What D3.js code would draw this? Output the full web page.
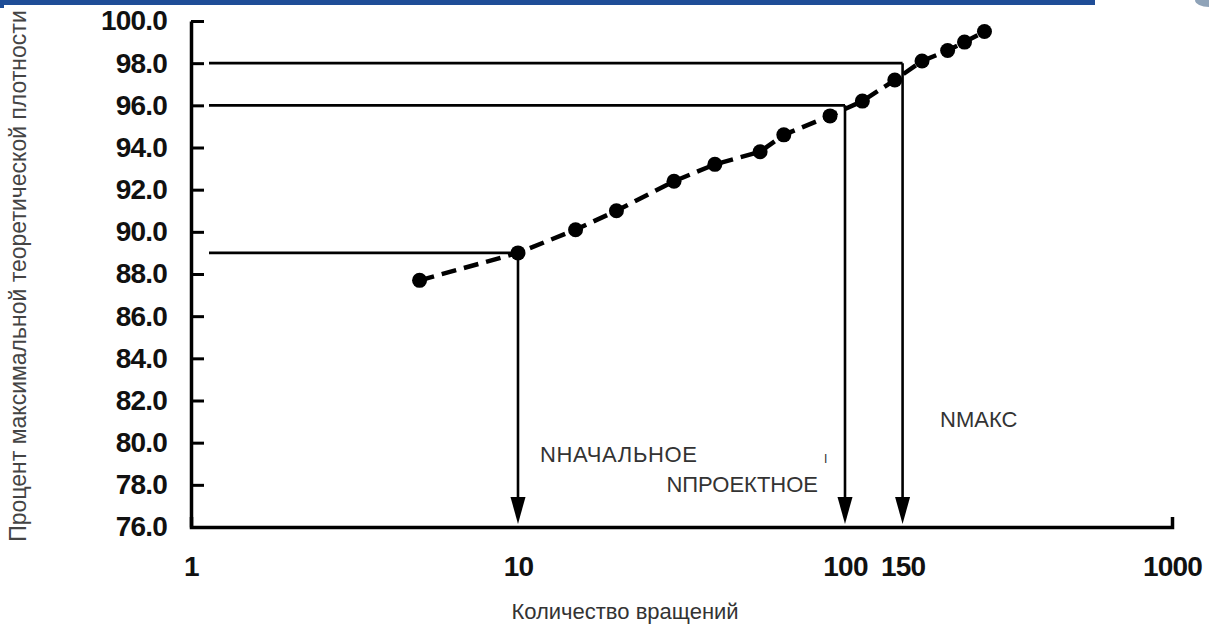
<!DOCTYPE html>
<html>
<head>
<meta charset="utf-8">
<script src="https://cdn.jsdelivr.net/npm/d3@7"></script>
<style>
  html, body { margin: 0; padding: 0; background: #fff; }
  svg { display: block; }
</style>
</head>
<body>
<script>
// ---- data ----
const yTickValues = [76, 78, 80, 82, 84, 86, 88, 90, 92, 94, 96, 98, 100];
const xTickValues = [1, 10, 100, 150, 1000];
const xTickLabels = ["1", "10", "100", "150", "1000"];
const rotations = [5, 10, 15, 20, 30, 40, 55, 65, 90, 113, 142, 172, 206, 232, 267];
const density   = [87.7, 89.0, 90.1, 91.0, 92.4, 93.2, 93.8, 94.6, 95.5, 96.2, 97.2, 98.1, 98.6, 99.0, 99.5];
const refRotations = [10, 100, 150];
const refDensity   = [89.0, 96.0, 98.0];
const refLabels    = ["NНАЧАЛЬНОЕ", "NПРОЕКТНОЕ", "NМАКС"];
const xTitle = "Количество вращений";
const yTitle = "Процент максимальной теоретической плотности";

// ---- layout ----
const W = 1209, H = 629;
const svg = d3.select("body").append("svg").attr("width", W).attr("height", H);

// top decoration bar
svg.append("rect").attr("x", 0).attr("y", 0).attr("width", 1095).attr("height", 5).attr("fill", "#1f4d97");
svg.append("rect").attr("x", 0).attr("y", 0).attr("width", 4).attr("height", 8).attr("fill", "#1f4d97");
svg.append("ellipse").attr("cx", 1209).attr("cy", 0).attr("rx", 14).attr("ry", 7).attr("fill", "#8fa3b8");

const x = d3.scaleLog().domain([1, 1000]).range([191, 1172]);
const y = d3.scaleLinear().domain([76, 100]).range([527, 21]);

const fontNum = "'Liberation Sans', Arial, sans-serif";
const labelFont = "'Liberation Sans', Arial, sans-serif";

// y axis
const yAxis = d3.axisLeft(y).tickValues(yTickValues)
  .tickFormat(d3.format(".1f"))
  .tickSizeInner(-13).tickSizeOuter(0).tickPadding(24);
const gy = svg.append("g").attr("transform", `translate(${x(1)},0)`).call(yAxis);
gy.select(".domain").attr("stroke", "#000").attr("stroke-width", 3.5);
gy.selectAll(".tick line").attr("stroke", "#000").attr("stroke-width", 3);
gy.selectAll(".tick text").attr("font-family", fontNum).attr("font-size", 28)
  .attr("font-weight", "bold").attr("fill", "#111").attr("letter-spacing", -0.8);

// x axis
const xAxis = d3.axisBottom(x).tickValues(xTickValues)
  .tickFormat((d, i) => xTickLabels[i])
  .tickSizeInner(0).tickSizeOuter(-10).tickPadding(29);
const gx = svg.append("g").attr("transform", `translate(0,${y(76)})`).call(xAxis);
gx.select(".domain").attr("stroke", "#000").attr("stroke-width", 3.5).attr("fill", "none");
gx.selectAll(".tick text").attr("font-family", fontNum).attr("font-size", 28)
  .attr("font-weight", "bold").attr("fill", "#111").attr("letter-spacing", -0.8);

// reference horizontal lines and arrows
const refG = svg.append("g");
refRotations.forEach((n, i) => {
  refG.append("line")
    .attr("x1", x(1) + 18).attr("x2", x(n))
    .attr("y1", y(refDensity[i])).attr("y2", y(refDensity[i]))
    .attr("stroke", "#000").attr("stroke-width", 2.6);
  refG.append("line")
    .attr("x1", x(n)).attr("x2", x(n))
    .attr("y1", y(refDensity[i])).attr("y2", y(76) - 20)
    .attr("stroke", "#000").attr("stroke-width", 2.6);
  const tipY = y(76) - 3, baseY = y(76) - 30, hw = 7.5;
  refG.append("path")
    .attr("d", `M${x(n) - hw},${baseY}L${x(n) + hw},${baseY}L${x(n)},${tipY}Z`)
    .attr("fill", "#000");
});

// dashed curve
const line = d3.line().x((d, i) => x(rotations[i])).y(d => y(d));
svg.append("path").datum(density)
  .attr("d", line).attr("fill", "none")
  .attr("stroke", "#000").attr("stroke-width", 4.5)
  .attr("stroke-dasharray", "15,8");

svg.append("g").selectAll("circle").data(density).join("circle")
  .attr("cx", (d, i) => x(rotations[i])).attr("cy", d => y(d))
  .attr("r", 7.5).attr("fill", "#000");

// annotation labels
const ann = svg.append("g").attr("font-family", labelFont).attr("font-size", 22).attr("fill", "#333");
ann.append("text").attr("x", 540).attr("y", 462).attr("textLength", 157).text(refLabels[0]);
ann.append("text").attr("x", 818).attr("y", 492).attr("text-anchor", "end").text(refLabels[1]);
ann.append("text").attr("x", 940).attr("y", 427).text(refLabels[2]);
ann.append("text").attr("x", 824).attr("y", 463).attr("font-size", 12).text("I");

// axis titles
svg.append("text")
  .attr("x", 625).attr("y", 619).attr("text-anchor", "middle")
  .attr("font-family", labelFont).attr("font-size", 22).attr("fill", "#333")
  .text(xTitle);
svg.append("text")
  .attr("transform", `translate(26,276) rotate(-90)`)
  .attr("text-anchor", "middle")
  .attr("font-family", labelFont).attr("font-size", 23).attr("fill", "#444")
  .text(yTitle);
</script>
</body>
</html>
